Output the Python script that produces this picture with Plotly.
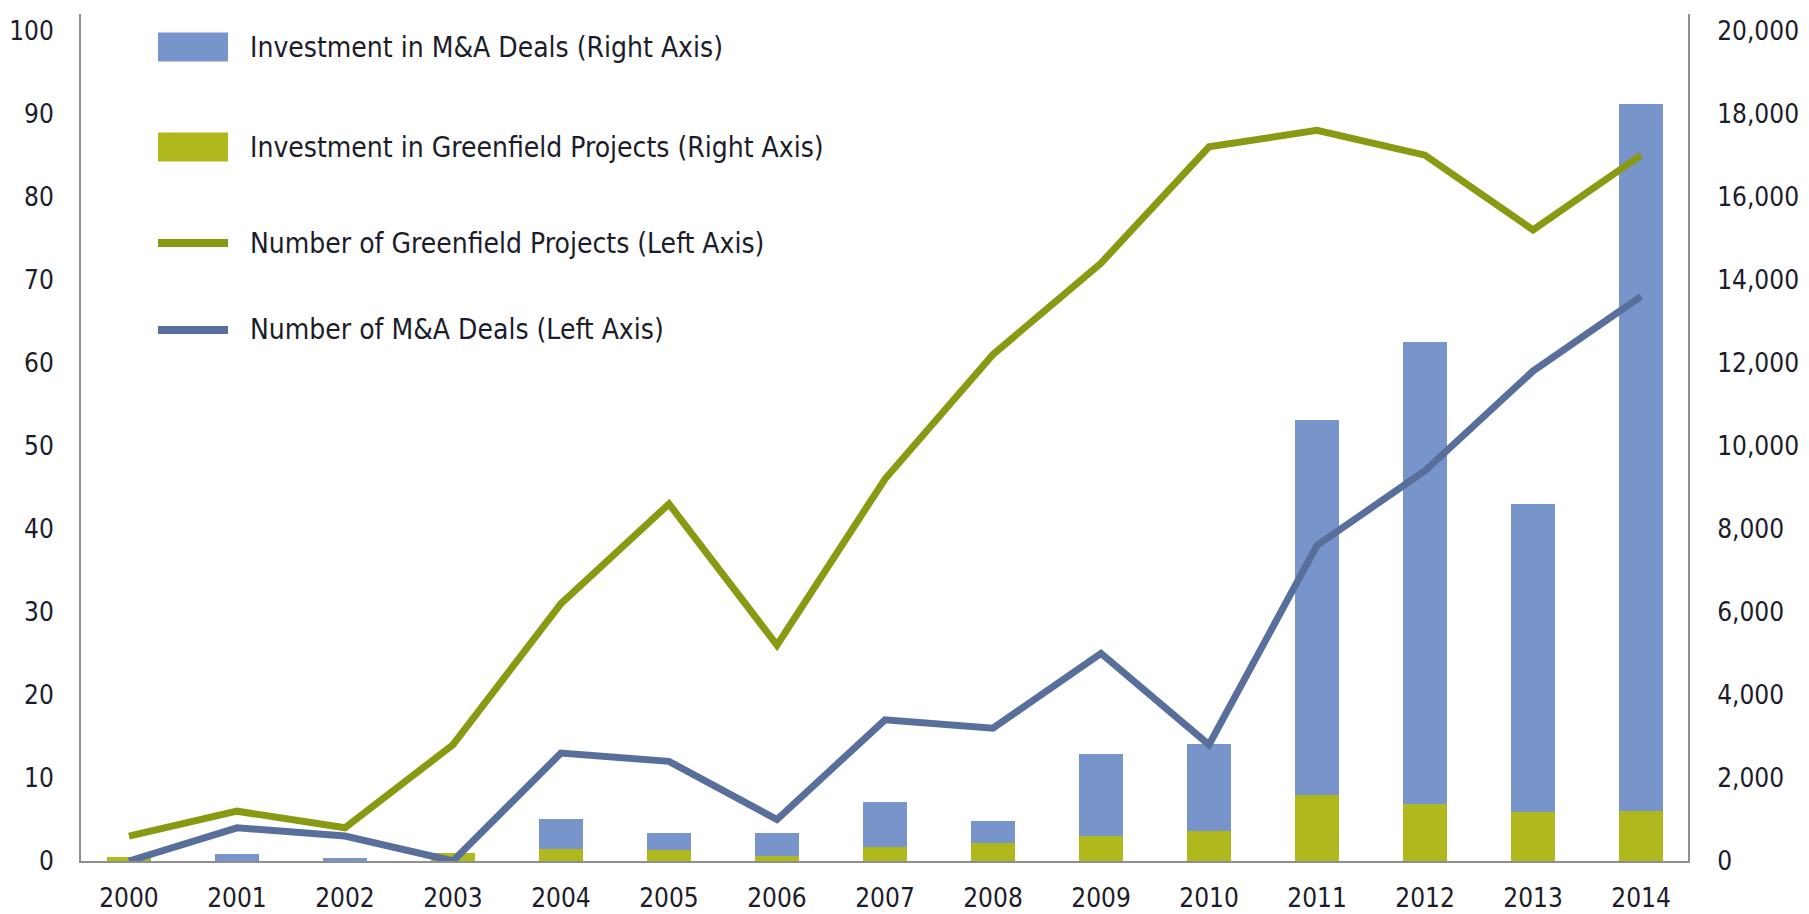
import plotly.graph_objects as go

# ---------------- data ----------------
years = ["2000", "2001", "2002", "2003", "2004", "2005", "2006", "2007",
         "2008", "2009", "2010", "2011", "2012", "2013", "2014"]
greenfield_investment = [90, 0, 0, 190, 300, 260, 130, 330, 440, 600, 730, 1580, 1370, 1180, 1200]
ma_investment = [0, 170, 70, 0, 700, 410, 540, 1090, 520, 1980, 2090, 9030, 11130, 7420, 17030]
greenfield_projects = [3, 6, 4, 14, 31, 43, 26, 46, 61, 72, 86, 88, 85, 76, 85]
ma_deals = [0, 4, 3, 0, 13, 12, 5, 17, 16, 25, 14, 38, 47, 59, 68]
left_ticks = list(range(0, 101, 10))
right_ticks = list(range(0, 20001, 2000))
right_tick_text = [f"{v:,}" for v in right_ticks]

legend_labels = ["Investment in M&A Deals (Right Axis)",
                 "Investment in Greenfield Projects (Right Axis)",
                 "Number of Greenfield Projects (Left Axis)",
                 "Number of M&A Deals (Left Axis)"]

# ---------------- style ----------------
W, H = 1809, 914
L, R, T, B = 81, 121, 14, 53
C_BAR_MA = "#7795CB"
C_BAR_GF = "#AFB81C"
C_LINE_GF = "#8A9912"
C_LINE_MA = "#596F9B"
AXIS_C = "#8f8f8f"
TXT = "#1c1c2a"
FONT = "DejaVu Sans Condensed, Liberation Sans Narrow, Arial Narrow, sans-serif"

fig = go.Figure()
fig.add_trace(go.Bar(x=years, y=greenfield_investment, name=legend_labels[1],
                     marker=dict(color=C_BAR_GF, line=dict(width=0)), width=0.41,
                     yaxis="y", showlegend=False))
fig.add_trace(go.Bar(x=years, y=ma_investment, name=legend_labels[0],
                     marker=dict(color=C_BAR_MA, line=dict(width=0)), width=0.41,
                     yaxis="y", showlegend=False))
fig.add_trace(go.Scatter(x=years, y=greenfield_projects, name=legend_labels[2], mode="lines",
                         line=dict(color=C_LINE_GF, width=7), yaxis="y2", showlegend=False))
fig.add_trace(go.Scatter(x=years, y=ma_deals, name=legend_labels[3], mode="lines",
                         line=dict(color=C_LINE_MA, width=7), yaxis="y2", showlegend=False))

pw = W - L - R
ph = H - T - B
def px(X):
    return (X - L) / pw
def py(Y):
    return (H - B - Y) / ph

# manual legend
shapes = []
annotations = []
rows = [(47, C_BAR_MA, "box"), (147, C_BAR_GF, "box"), (243, C_LINE_GF, "line"), (330, C_LINE_MA, "line")]
for (yc, col, kind), lab in zip(rows, legend_labels):
    half = 14.5 if kind == "box" else 4
    shapes.append(dict(type="rect", xref="paper", yref="paper",
                       x0=px(158), x1=px(228), y0=py(yc + half), y1=py(yc - half),
                       fillcolor=col, line=dict(width=0)))
    annotations.append(dict(xref="paper", yref="paper", x=px(248), y=py(yc),
                            xanchor="left", yanchor="middle", text=lab, showarrow=False,
                            font=dict(family=FONT, size=28, color=TXT)))

fig.update_layout(
    width=W, height=H,
    margin=dict(l=L, r=R, t=T, b=B, pad=0),
    paper_bgcolor="white", plot_bgcolor="white",
    barmode="stack", bargap=0,
    showlegend=False,
    font=dict(family=FONT, size=26, color=TXT),
    shapes=shapes, annotations=annotations,
    xaxis=dict(type="category", range=[-0.444, 14.435], showgrid=False, zeroline=False,
               showline=True, linecolor=AXIS_C, linewidth=2, ticks="",
               tickfont=dict(family=FONT, size=26, color=TXT), ticklabelstandoff=13,
               automargin=False, fixedrange=True),
    yaxis=dict(side="right", range=[0, 20400], tickvals=right_ticks, ticktext=right_tick_text,
               showgrid=False, zeroline=False, showline=True, linecolor=AXIS_C, linewidth=2,
               ticks="", tickfont=dict(family=FONT, size=26, color=TXT), ticklabelstandoff=22,
               automargin=False),
    yaxis2=dict(side="left", overlaying="y", range=[0, 102], tickvals=left_ticks,
                showgrid=False, zeroline=False, showline=True, linecolor=AXIS_C, linewidth=2,
                ticks="", tickfont=dict(family=FONT, size=26, color=TXT), ticklabelstandoff=20,
                automargin=False),
)

fig.write_html("out.html")
